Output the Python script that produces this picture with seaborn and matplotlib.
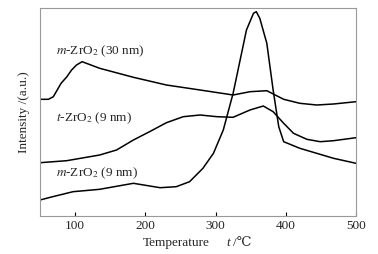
import matplotlib
matplotlib.use("Agg")
import matplotlib.pyplot as plt
import pandas as pd
import seaborn as sns

# temperature (deg C) and intensity (a.u.)
t_m30 = [50, 62, 69, 80, 88, 95, 102, 110, 135, 183, 230, 278, 325, 349, 373, 397, 420, 444, 468, 500]
i_m30 = [116.7, 116.7, 119.3, 132.7, 139, 146, 151, 154.3, 147.7, 138.7, 131, 126, 121, 124.3, 125.3, 116.7, 112.7, 111, 112, 114.3]

t_t9 = [50, 88, 135, 159, 183, 206, 230, 254, 278, 302, 325, 349, 368, 382, 397, 411, 430, 449, 468, 500]
i_t9 = [53.3, 55.3, 61, 66, 76, 84.3, 93.3, 99.3, 101, 99.3, 98.7, 106, 110, 104.3, 92.7, 82.7, 76.7, 74.3, 75.3, 78.3]

t_m9 = [50, 68, 97, 135, 183, 221, 244, 263, 282, 297, 311, 325, 335, 344, 354, 358, 363, 373, 382, 390, 397, 420, 444, 468, 500]
i_m9 = [16, 19.3, 24.3, 26.7, 32.7, 28.3, 29.3, 34.3, 47.7, 62.7, 86, 122.7, 156, 186, 202.7, 204.3, 197.7, 172.7, 126, 89.3, 74.3, 67.7, 62.7, 57.7, 52.7]

names = ["$m$-ZrO$_2$ (30 nm)", "$t$-ZrO$_2$ (9 nm)", "$m$-ZrO$_2$ (9 nm)"]
label_y = [164.5, 97.7, 42.7]

df = pd.concat([
    pd.DataFrame({"T": t_m30, "I": i_m30, "sample": names[0]}),
    pd.DataFrame({"T": t_t9, "I": i_t9, "sample": names[1]}),
    pd.DataFrame({"T": t_m9, "I": i_m9, "sample": names[2]}),
])

sns.set_theme(style="white")
plt.rcParams["font.family"] = ["Liberation Serif", "DejaVu Serif", "DejaVu Sans"]
plt.rcParams["mathtext.fontset"] = "stix"
fs = 9.5

fig, ax = plt.subplots(figsize=(3.78, 2.54), dpi=100)
fig.subplots_adjust(left=40 / 378, right=356 / 378, bottom=1 - 216 / 254, top=1 - 8 / 254)

sns.lineplot(data=df, x="T", y="I", hue="sample", units="sample", estimator=None,
             palette={n: "black" for n in names}, linewidth=1.1, legend=False, ax=ax)

for name, y in zip(names, label_y):
    ax.text(73, y, name, fontsize=fs, va="center", ha="left")

ax.set_xlim(50, 500)
ax.set_ylim(0, 208)
ax.set_xticks([100, 200, 300, 400, 500])
ax.set_yticks([])
ax.tick_params(axis="x", direction="in", length=3, width=0.8, color="black",
               bottom=True, labelsize=fs, pad=3)
for sp in ax.spines.values():
    sp.set_color("#999999")
    sp.set_linewidth(0.8)

ax.set_xlabel("")
ax.set_ylabel("Intensity /(a.u.)", fontsize=fs, labelpad=7)

# x label built from pieces so the t stays italic and the degree sign renders
yl = 1 - 243 / 254
fig.text(143 / 378, yl, "Temperature", fontsize=fs, va="center", ha="left")
fig.text(226 / 378, yl, "t", fontsize=fs, fontstyle="italic", va="center", ha="left")
fig.text(233 / 378, yl, "/℃", fontsize=fs, va="center", ha="left")

fig.savefig("out.png", dpi=100)
